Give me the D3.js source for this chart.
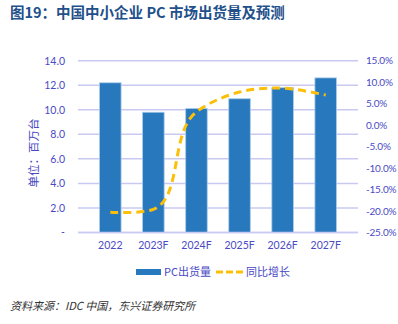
<!DOCTYPE html>
<html>
<head>
<meta charset="utf-8">
<script src="https://cdn.jsdelivr.net/npm/d3@7"></script>
<style>
  body { margin: 0; background: #fff; }
  svg { display: block; font-family: "Microsoft YaHei", "Noto Sans CJK SC", sans-serif; }
</style>
</head>
<body>
<svg width="398" height="324"></svg>
<script>
// 中国中小企业 PC 市场出货量及预测
var years = ["2022", "2023F", "2024F", "2025F", "2026F", "2027F"];
var shipments = [12.2, 9.8, 10.1, 10.9, 11.8, 12.6];     // 百万台
var growth = [-20.3, -19.6, 3.1, 7.7, 8.6, 7.0];          // %
var leftTicks = [0, 2, 4, 6, 8, 10, 12, 14];
var rightTicks = [-25, -20, -15, -10, -5, 0, 5, 10, 15];

var svg = d3.select("svg");
var labelColor = "#4a4ac4";

var x = d3.scaleBand().domain(years).range([78, 358]).padding(0.5);
var yL = d3.scaleLinear().domain([0, 14]).range([232.5, 60.7]);
var yR = d3.scaleLinear().domain([-25, 15]).range([232.5, 60.7]);

// 제목
svg.append("text")
  .attr("x", 10).attr("y", 18)
  .attr("font-size", 14.5).attr("font-weight", "bold")
  .attr("fill", "#22508a")
  .text("图19：中国中小企业 PC 市场出货量及预测");

// 격자선
svg.append("g").selectAll("line")
  .data(leftTicks)
  .enter().append("line")
  .attr("x1", 78).attr("x2", 358)
  .attr("y1", function(d) { return yL(d); })
  .attr("y2", function(d) { return yL(d); })
  .attr("stroke", "#c9c9f2").attr("stroke-width", 1.5);

// 왼쪽 축
var leftAxis = d3.axisLeft(yL).tickValues(leftTicks).tickSize(0).tickPadding(13)
  .tickFormat(function(d) { return d === 0 ? "-" : d.toFixed(1); });
var gL = svg.append("g").attr("transform", "translate(78,0)").call(leftAxis);
gL.select(".domain").remove();
gL.selectAll("text").attr("fill", labelColor).attr("font-size", 10.5)
  .attr("font-family", "Lato, 'Noto Sans', sans-serif");

// 오른쪽 축
var rightAxis = d3.axisRight(yR).tickValues(rightTicks).tickSize(0).tickPadding(8)
  .tickFormat(function(d) { return d.toFixed(1) + "%"; });
var gR = svg.append("g").attr("transform", "translate(358,0)").call(rightAxis);
gR.select(".domain").remove();
gR.selectAll("text").attr("fill", labelColor).attr("font-size", 10)
  .attr("letter-spacing", -0.2)
  .attr("font-family", "Lato, 'Noto Sans', sans-serif");

// y축 제목
svg.append("text")
  .attr("transform", "translate(38,153) rotate(-90)")
  .attr("text-anchor", "middle")
  .attr("font-size", 11.5).attr("fill", labelColor)
  .text("单位：百万台");

// 막대
svg.append("g").selectAll("rect")
  .data(shipments)
  .enter().append("rect")
  .attr("x", function(d, i) { return x(years[i]); })
  .attr("y", function(d) { return yL(d); })
  .attr("width", x.bandwidth())
  .attr("height", function(d) { return yL(0) - yL(d); })
  .attr("fill", "#2878bd")
  .attr("stroke", "#a9cbea").attr("stroke-width", 0.8);

// 바닥선
svg.append("line")
  .attr("x1", 78).attr("x2", 358)
  .attr("y1", yL(0)).attr("y2", yL(0))
  .attr("stroke", "#c9c9f2").attr("stroke-width", 1.5);

// 증가율 선
var growthLine = d3.line()
  .x(function(d, i) { return x(years[i]) + x.bandwidth() / 2; })
  .y(function(d) { return yR(d); })
  .curve(d3.curveCatmullRom.alpha(1));

svg.append("path")
  .attr("d", growthLine(growth))
  .attr("fill", "none")
  .attr("stroke", "#fcbf0a")
  .attr("stroke-width", 3)
  .attr("stroke-dasharray", "8,5");

// x축 라벨
var xAxis = d3.axisBottom(x).tickSize(0).tickPadding(9);
var gX = svg.append("g").attr("transform", "translate(0," + yL(0) + ")").call(xAxis);
gX.select(".domain").remove();
gX.selectAll("text").attr("fill", labelColor).attr("font-size", 10.5)
  .attr("font-family", "Lato, 'Noto Sans', sans-serif");

// 범례
var legend = svg.append("g").attr("font-size", 11).attr("fill", labelColor);
legend.append("rect")
  .attr("x", 136).attr("y", 269).attr("width", 25).attr("height", 6)
  .attr("fill", "#2878bd");
legend.append("text").attr("x", 164).attr("y", 276).text("PC出货量");
legend.append("line")
  .attr("x1", 216).attr("x2", 243).attr("y1", 272).attr("y2", 272)
  .attr("stroke", "#fcbf0a").attr("stroke-width", 3)
  .attr("stroke-dasharray", "7,3");
legend.append("text").attr("x", 246).attr("y", 276).text("同比增长");

// 출처
svg.append("text")
  .attr("x", 10).attr("y", 310)
  .attr("font-size", 11).attr("font-style", "italic")
  .attr("fill", "#333")
  .text("资料来源：IDC 中国，东兴证券研究所");
</script>
</body>
</html>
